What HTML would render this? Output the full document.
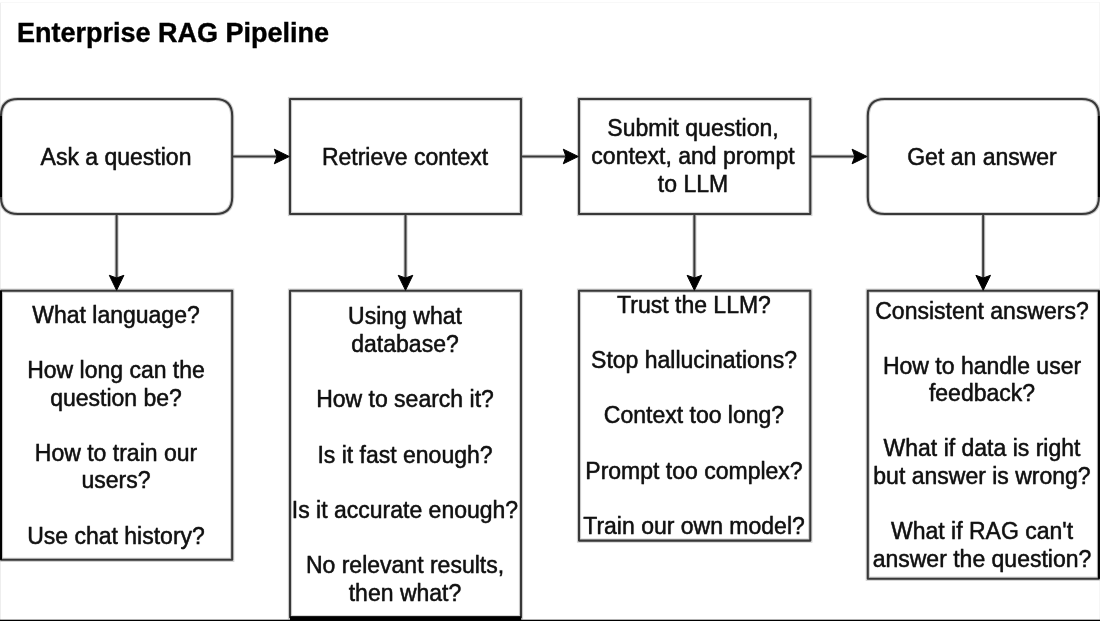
<!DOCTYPE html>
<html><head><meta charset="utf-8">
<title>Enterprise RAG Pipeline</title>
<style>
html,body{margin:0;padding:0;background:#fff;}
body{width:1100px;height:621px;position:relative;overflow:hidden;font-family:"Liberation Sans",sans-serif;color:#111;}
svg{position:absolute;left:0;top:0;}
.title{will-change:transform;position:absolute;left:17.2px;top:18px;font-weight:bold;font-size:27px;-webkit-text-stroke:0.4px #000;line-height:31px;white-space:nowrap;color:#000;}
.t{will-change:transform;position:absolute;width:400px;text-align:center;white-space:nowrap;font-size:23px;line-height:27.6px;height:27.6px;-webkit-text-stroke:0.4px #111;text-shadow:0 0 1px rgba(0,0,0,0.45);}
</style></head><body>
<svg width="1100" height="621" viewBox="0 0 1100 621">
<rect x="0" y="2" width="1" height="619" fill="#eeeeee"/><rect x="0" y="2" width="1100" height="1" fill="#f8f8f8"/><rect x="1099" y="2" width="1" height="619" fill="#f6f6f6"/>
<g fill="none" stroke="#cfcfcf" stroke-width="4.2">
<path d="M18 99 H215.2 Q232.2 99 232.2 116 V197 Q232.2 214 215.2 214 H18 Q1 214 1 197 V116 Q1 99 18 99 Z"/>
<rect x="290" y="99" width="231" height="115"/>
<rect x="579" y="99" width="231.3" height="115"/>
<path d="M884.8 99 H1081.9 Q1098.9 99 1098.9 116 V197 Q1098.9 214 1081.9 214 H884.8 Q867.8 214 867.8 197 V116 Q867.8 99 884.8 99 Z"/>
<rect x="1" y="290.7" width="231.20" height="269.10"/>
<rect x="290" y="290.7" width="231.00" height="326.60"/>
<rect x="579" y="290.7" width="231.30" height="249.90"/>
<rect x="867.8" y="290.7" width="231.10" height="288.00"/>
<path d="M232.2 156.5 H280 M521 156.5 H569 M810.3 156.5 H858"/>
<path d="M116.6 214 V279.7 M405.5 214 V279.7 M694.4 214 V279.7 M983.2 214 V279.7"/>
</g>
<g fill="none" stroke="#383838" stroke-width="2.05" stroke-linejoin="round">
<path d="M18 99 H215.2 Q232.2 99 232.2 116 V197 Q232.2 214 215.2 214 H18 Q1 214 1 197 V116 Q1 99 18 99 Z"/>
<rect x="290" y="99" width="231" height="115"/>
<rect x="579" y="99" width="231.3" height="115"/>
<path d="M884.8 99 H1081.9 Q1098.9 99 1098.9 116 V197 Q1098.9 214 1081.9 214 H884.8 Q867.8 214 867.8 197 V116 Q867.8 99 884.8 99 Z"/>
<rect x="1" y="290.7" width="231.20" height="269.10"/>
<rect x="290" y="290.7" width="231.00" height="326.60"/>
<rect x="579" y="290.7" width="231.30" height="249.90"/>
<rect x="867.8" y="290.7" width="231.10" height="288.00"/>
<path d="M232.2 156.5 H280 M521 156.5 H569 M810.3 156.5 H858"/>
<path d="M116.6 214 V279.7 M405.5 214 V279.7 M694.4 214 V279.7 M983.2 214 V279.7"/>
</g>
<g stroke="#000" stroke-width="2.05" fill="none"><path d="M1 116 V197 M1 290.7 V559.8 M1098.9 116 V197 M1098.9 290.7 V578.7"/></g>
<g fill="#000" stroke="#000" stroke-width="1" stroke-linejoin="round">
<path d="M289.30 156.5 L274.30 149.20 L277.00 156.5 L274.30 163.80 Z"/>
<path d="M578.30 156.5 L563.30 149.20 L566.00 156.5 L563.30 163.80 Z"/>
<path d="M867.10 156.5 L852.10 149.20 L854.80 156.5 L852.10 163.80 Z"/>
<path d="M116.60 290.30 L109.30 275.30 L116.60 278.00 L123.90 275.30 Z"/>
<path d="M405.50 290.30 L398.20 275.30 L405.50 278.00 L412.80 275.30 Z"/>
<path d="M694.40 290.30 L687.10 275.30 L694.40 278.00 L701.70 275.30 Z"/>
<path d="M983.20 290.30 L975.90 275.30 L983.20 278.00 L990.50 275.30 Z"/>
</g>
<rect x="0" y="619.7" width="1100" height="1.3" fill="#000"/>
<rect x="290" y="616.3" width="231.2" height="5" fill="#000"/>
</svg>
<div class="title">Enterprise RAG Pipeline</div>
<div class="t" style="left:-84.40px;top:144px">Ask a question</div>
<div class="t" style="left:205.00px;top:144px">Retrieve context</div>
<div class="t" style="left:493.20px;top:115px">Submit question,</div>
<div class="t" style="left:493.20px;top:143px">context, and prompt</div>
<div class="t" style="left:493.20px;top:171px">to LLM</div>
<div class="t" style="left:782.40px;top:144px">Get an answer</div>
<div class="t" style="left:-84.40px;top:302px">What language?</div>
<div class="t" style="left:-84.40px;top:357px">How long can the</div>
<div class="t" style="left:-84.40px;top:385px">question be?</div>
<div class="t" style="left:-84.40px;top:440px">How to train our</div>
<div class="t" style="left:-84.40px;top:467px">users?</div>
<div class="t" style="left:-84.40px;top:523px">Use chat history?</div>
<div class="t" style="left:204.60px;top:303px">Using what</div>
<div class="t" style="left:204.60px;top:331px">database?</div>
<div class="t" style="left:204.60px;top:386px">How to search it?</div>
<div class="t" style="left:204.60px;top:442px">Is it fast enough?</div>
<div class="t" style="left:204.60px;top:497px">Is it accurate enough?</div>
<div class="t" style="left:204.60px;top:552px">No relevant results,</div>
<div class="t" style="left:204.60px;top:580px">then what?</div>
<div class="t" style="left:493.60px;top:292px">Trust the LLM?</div>
<div class="t" style="left:493.60px;top:347px">Stop hallucinations?</div>
<div class="t" style="left:493.60px;top:402px">Context too long?</div>
<div class="t" style="left:493.60px;top:458px">Prompt too complex?</div>
<div class="t" style="left:493.60px;top:513px">Train our own model?</div>
<div class="t" style="left:782.40px;top:298px">Consistent answers?</div>
<div class="t" style="left:782.40px;top:353px">How to handle user</div>
<div class="t" style="left:782.40px;top:380px">feedback?</div>
<div class="t" style="left:782.40px;top:435px">What if data is right</div>
<div class="t" style="left:782.40px;top:463px">but answer is wrong?</div>
<div class="t" style="left:782.40px;top:518px">What if RAG can't</div>
<div class="t" style="left:782.40px;top:546px">answer the question?</div>
</body></html>
